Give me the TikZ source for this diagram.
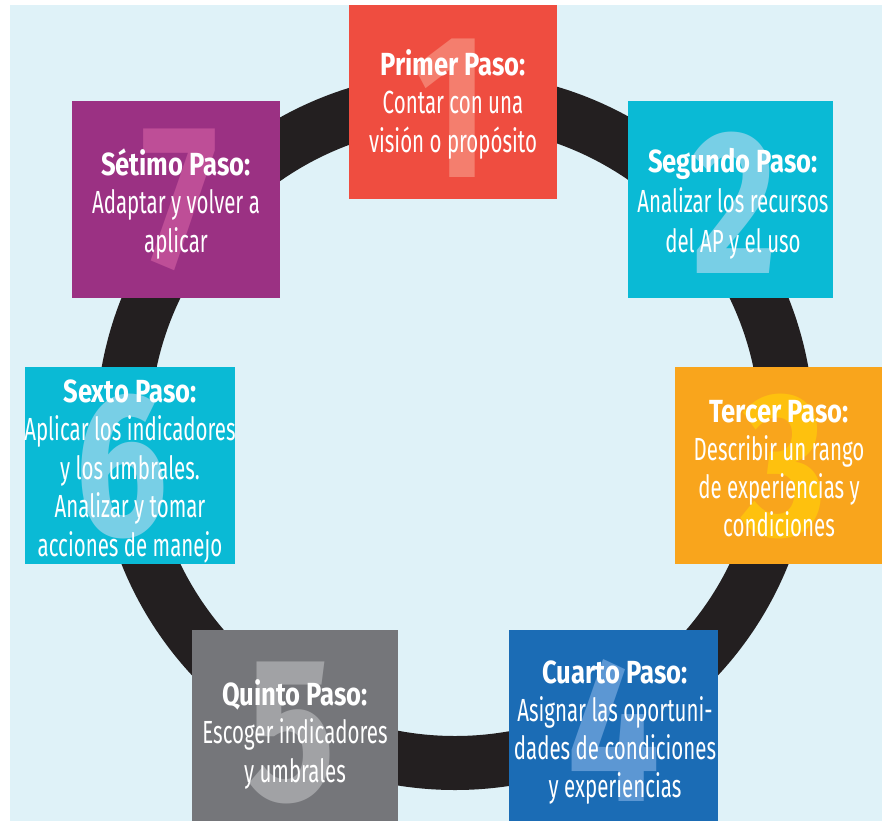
\documentclass[tikz,border=0pt]{standalone}
\usepackage{fontspec}
\setmainfont{Fira Sans}[FakeStretch=0.64, BoldFeatures={FakeStretch=0.8}]
\definecolor{bgcol}{RGB}{223,242,248}
\definecolor{ringcol}{RGB}{35,31,32}
\definecolor{cred}{RGB}{239,77,64}
\definecolor{credl}{RGB}{244,126,110}
\definecolor{ccyan}{RGB}{10,186,213}
\definecolor{ccyanl}{RGB}{120,207,230}
\definecolor{corange}{RGB}{249,165,28}
\definecolor{corangel}{RGB}{254,193,14}
\definecolor{cblue}{RGB}{27,108,181}
\definecolor{cbluel}{RGB}{92,151,211}
\definecolor{cgray}{RGB}{117,118,122}
\definecolor{cgrayl}{RGB}{161,162,165}
\definecolor{cpurple}{RGB}{155,49,131}
\definecolor{cpurplel}{RGB}{190,78,151}
\tikzset{
  stepbox/.style={rectangle, inner sep=0pt, outer sep=0pt, anchor=north west, draw=none},
  bignum/.style={inner sep=0pt, anchor=center, font=\fontsize{205}{205}\selectfont\bfseries},
  steptext/.style={text=white, align=center, inner sep=0pt, anchor=north, font=\fontsize{32}{38.5}\selectfont},
}
\newcommand{\fs}{\rule{0pt}{30pt}}
\begin{document}
\begin{tikzpicture}[x=1pt,y=-1pt]
\useasboundingbox (0,0) rectangle (882,821);
\fill[white] (0,0) rectangle (882,821);
\fill[bgcol] (10,5) rectangle (882,821);
% ring
\node (ringc) [coordinate] at (455,431) {};
\draw[ringcol, line width=54pt] (ringc) circle[radius=332pt];
% boxes
\node (b1) [stepbox, fill=cred, minimum width=208pt, minimum height=194pt] at (349,5) {};
\node (b2) [stepbox, fill=ccyan, minimum width=205pt, minimum height=197pt] at (628,101) {};
\node (b3) [stepbox, fill=corange, minimum width=207pt, minimum height=197pt] at (675,367) {};
\node (b4) [stepbox, fill=cblue, minimum width=209pt, minimum height=191pt] at (509,630) {};
\node (b5) [stepbox, fill=cgray, minimum width=206pt, minimum height=191pt] at (192,630) {};
\node (b6) [stepbox, fill=ccyan, minimum width=210pt, minimum height=197pt] at (25,367) {};
\node (b7) [stepbox, fill=cpurple, minimum width=208pt, minimum height=197pt] at (72,101) {};
% big numbers
\node (d1) [bignum, text=credl] at (451,108) {1};
\node (d2) [bignum, text=ccyanl] at (735,203) {2};
\node (d3) [bignum, text=corangel] at (784,467) {3};
\node (d4) [bignum, text=cbluel] at (614,730) {4};
\node (d5) [bignum, text=cgrayl] at (291,733) {5};
\node (d6) [bignum, text=ccyanl] at (122,467) {6};
\node (d7) [bignum, text=cpurplel] at (180,200) {7};
% texts
\node (t1) [steptext] at (453,45) {\fs\textbf{Primer Paso:}\\Contar con una\\visión o propósito};
\node (t2) [steptext, font=\fontsize{32}{40}\selectfont] at (733,142) {\fs\textbf{Segundo Paso:}\\Analizar los recursos\\del AP y el uso};
\node (t3) [steptext, font=\fontsize{32}{38}\selectfont] at (779,392) {\fs\textbf{Tercer Paso:}\\Describir un rango\\de experiencias y\\condiciones};
\node (t4) [steptext, font=\fontsize{32}{38}\selectfont] at (615,653) {\fs\textbf{Cuarto Paso:}\\Asignar las oportuni-\\dades de condiciones\\y experiencias};
\node (t5) [steptext] at (295,675) {\fs\textbf{Quinto Paso:}\\Escoger indicadores\\y umbrales};
\node (t6) [steptext] at (130,372) {\fs\textbf{Sexto Paso:}\\Aplicar los indicadores\\y los umbrales.\\Analizar y tomar\\acciones de manejo};
\node (t7) [steptext] at (176,145) {\fs\textbf{Sétimo Paso:}\\Adaptar y volver a\\aplicar};
\end{tikzpicture}
\end{document}
